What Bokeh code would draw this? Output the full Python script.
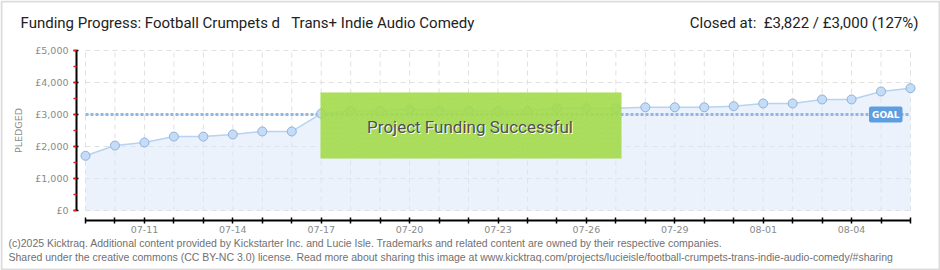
from bokeh.plotting import figure
from bokeh.models import Range1d, FixedTicker, SingleIntervalTicker, BoxAnnotation, Label
from bokeh.embed import file_html
from bokeh.resources import INLINE

# ---------------- data ----------------
dates = ["07-09", "07-10", "07-11", "07-12", "07-13", "07-14", "07-15", "07-16",
         "07-17", "07-18", "07-19", "07-20", "07-21", "07-22", "07-23", "07-24",
         "07-25", "07-26", "07-27", "07-28", "07-29", "07-30", "07-31", "08-01",
         "08-02", "08-03", "08-04", "08-05", "08-06"]
pledged = [1710, 2030, 2125, 2310, 2310, 2375, 2470, 2470,
           3030, 3110, 3110, 3165, 3115, 3115, 3115, 3115,
           3195, 3195, 3195, 3225, 3225, 3225, 3260, 3345,
           3345, 3470, 3470, 3720, 3822]
label_dates = ["07-11", "07-14", "07-17", "07-20", "07-23", "07-26", "07-29", "08-01", "08-04"]
y_ticks = [0, 1000, 2000, 3000, 4000, 5000]
y_tick_labels = ["£0", "£1,000", "£2,000", "£3,000", "£4,000", "£5,000"]
goal = 3000

title_text = "Funding Progress: Football Crumpets d\u00a0\u00a0\u00a0Trans+ Indie Audio Comedy"
closed_text = "Closed at:\u00a0 £3,822 / £3,000 (127%)"
success_text = "Project Funding Successful"
footer1 = ("(c)2025 Kicktraq. Additional content provided by Kickstarter Inc. and Lucie Isle. "
           "Trademarks and related content are owned by their respective companies.")
footer2 = ("Shared under the creative commons (CC BY-NC 3.0) license. Read more about sharing this "
           "image at www.kicktraq.com/projects/lucieisle/football-crumpets-trans-indie-audio-comedy/#sharing")

idx = list(range(len(dates)))

# ---------------- layout helpers (pixel -> data); frame = whole canvas ----------------
W, H = 940, 270
PXD = (910 - 85) / (len(dates) - 1)        # px per day
PPU = 160 / 5000                           # px per pound
XR0 = -85 / PXD
XR1 = XR0 + W / PXD
YR1 = 5000 + 50 / PPU
YR0 = YR1 - H / PPU


def x_at(px):
    return XR0 + px / PXD


def y_at(py):
    return YR1 - py / PPU


p = figure(width=W, height=H, output_backend="svg", toolbar_location=None,
           x_range=Range1d(XR0, XR1), y_range=Range1d(YR0, YR1),
           min_border=0, min_border_left=0, min_border_right=0,
           min_border_top=0, min_border_bottom=0)
p.title.visible = False
p.outline_line_color = None
p.background_fill_color = "white"
p.border_fill_color = "white"
p.xgrid.visible = False
p.ygrid.visible = False

# grid (dashed), limited to data extent
p.segment(x0=[idx[0]] * len(y_ticks), x1=[idx[-1]] * len(y_ticks), y0=y_ticks, y1=y_ticks,
          line_color="#e0e0e0", line_width=1, line_dash="5 4")
p.segment(x0=idx, x1=idx, y0=[y_ticks[0]] * len(idx), y1=[y_ticks[-1]] * len(idx),
          line_color="#e0e0e0", line_width=1, line_dash="5 4")

# area + goal + series
p.varea(x=idx, y1=[0] * len(idx), y2=pledged, fill_color="#dbe8fa", fill_alpha=0.55)
p.line(x=[idx[0], idx[-1]], y=[goal, goal], line_color="#8fb8e4", line_width=3, line_dash="3 2")
p.line(x=idx, y=pledged, line_color="#b6d3f1", line_width=1.5)
p.scatter(x=idx, y=pledged, size=9, fill_color="#c4dcf6", line_color="#90b1d8", line_width=1)

# axes (fixed inside the full-canvas frame)
xa = p.xaxis[0]
xa.fixed_location = y_at(220)
xa.ticker = FixedTicker(ticks=idx)
xa.major_label_overrides = {i: (d if d in label_dates else "") for i, d in zip(idx, dates)}
xa.bounds = (idx[0], idx[-1])
xa.axis_line_color = "black"
xa.axis_line_width = 2
xa.major_tick_line_color = "black"
xa.major_tick_line_width = 1.5
xa.major_tick_in = 3
xa.major_tick_out = 3
xa.minor_tick_line_color = None
xa.major_label_text_color = "#8a8a8a"
xa.major_label_text_font = "DejaVu Sans"
xa.major_label_text_font_size = "9.5px"
xa.major_label_standoff = 2

ya = p.yaxis[0]
ya.fixed_location = x_at(76)
ya.ticker = SingleIntervalTicker(interval=1000, num_minor_ticks=2)
ya.major_label_overrides = {v: s for v, s in zip(y_ticks, y_tick_labels)}
ya.bounds = (y_ticks[0], y_ticks[-1])
ya.axis_line_color = "black"
ya.axis_line_width = 2
ya.major_tick_line_color = "black"
ya.major_tick_line_width = 1.5
ya.major_tick_in = 2
ya.major_tick_out = 3
ya.minor_tick_line_color = "#e02020"
ya.minor_tick_line_width = 1.5
ya.minor_tick_in = 0
ya.minor_tick_out = 3
ya.major_label_text_color = "#8a8a8a"
ya.major_label_text_font = "DejaVu Sans"
ya.major_label_text_font_size = "9.5px"
ya.major_label_standoff = 5
ya.axis_label = "PLEDGED"
ya.axis_label_text_color = "#8a8a8a"
ya.axis_label_text_font = "DejaVu Sans"
ya.axis_label_text_font_size = "9.5px"
ya.axis_label_text_font_style = "normal"
ya.axis_label_standoff = 8

# success box
box = BoxAnnotation(left=x_at(320), right=x_at(621), top=y_at(92), bottom=y_at(158),
                    fill_color="#a6dd4f", fill_alpha=0.9, line_color=None,
                    hatch_pattern="/", hatch_color="#96cf40", hatch_alpha=0.35,
                    hatch_scale=5, hatch_weight=1)
p.add_layout(box)
p.add_layout(Label(x=x_at(470.5), y=y_at(127), text=success_text, text_align="center",
                   text_baseline="middle", text_color="white", text_font="Roboto",
                   text_font_size="17px"))
p.add_layout(Label(x=x_at(469.5), y=y_at(126), text=success_text, text_align="center",
                   text_baseline="middle", text_color="#505050", text_font="Roboto",
                   text_font_size="17px"))

# goal tag
p.add_layout(Label(x=x_at(902), y=goal, text="GOAL", text_align="right", text_baseline="middle",
                   text_color="white", text_font="DejaVu Sans", text_font_size="9px",
                   text_font_style="bold", background_fill_color="#5e9de0",
                   padding=3, border_radius=2))

# header / footer texts
p.add_layout(Label(x=x_at(20), y=y_at(22), text=title_text, text_align="left",
                   text_baseline="middle", text_color="#222222", text_font="Roboto",
                   text_font_size="15px"))
p.add_layout(Label(x=x_at(918), y=y_at(22), text=closed_text, text_align="right",
                   text_baseline="middle", text_color="#222222", text_font="Roboto",
                   text_font_size="15px"))
p.add_layout(Label(x=x_at(8), y=y_at(242), text=footer1, text_align="left",
                   text_baseline="middle", text_color="#707070", text_font="Liberation Sans",
                   text_font_size="10.5px"))
p.add_layout(Label(x=x_at(8), y=y_at(256), text=footer2, text_align="left",
                   text_baseline="middle", text_color="#707070", text_font="Liberation Sans",
                   text_font_size="10.5px"))

# outer border
p.add_layout(BoxAnnotation(left=x_at(1), right=x_at(939), top=y_at(1), bottom=y_at(269),
                           fill_color=None, line_color="#8c8c8c", line_width=2))

open("out.html", "w").write(file_html(p, INLINE))
